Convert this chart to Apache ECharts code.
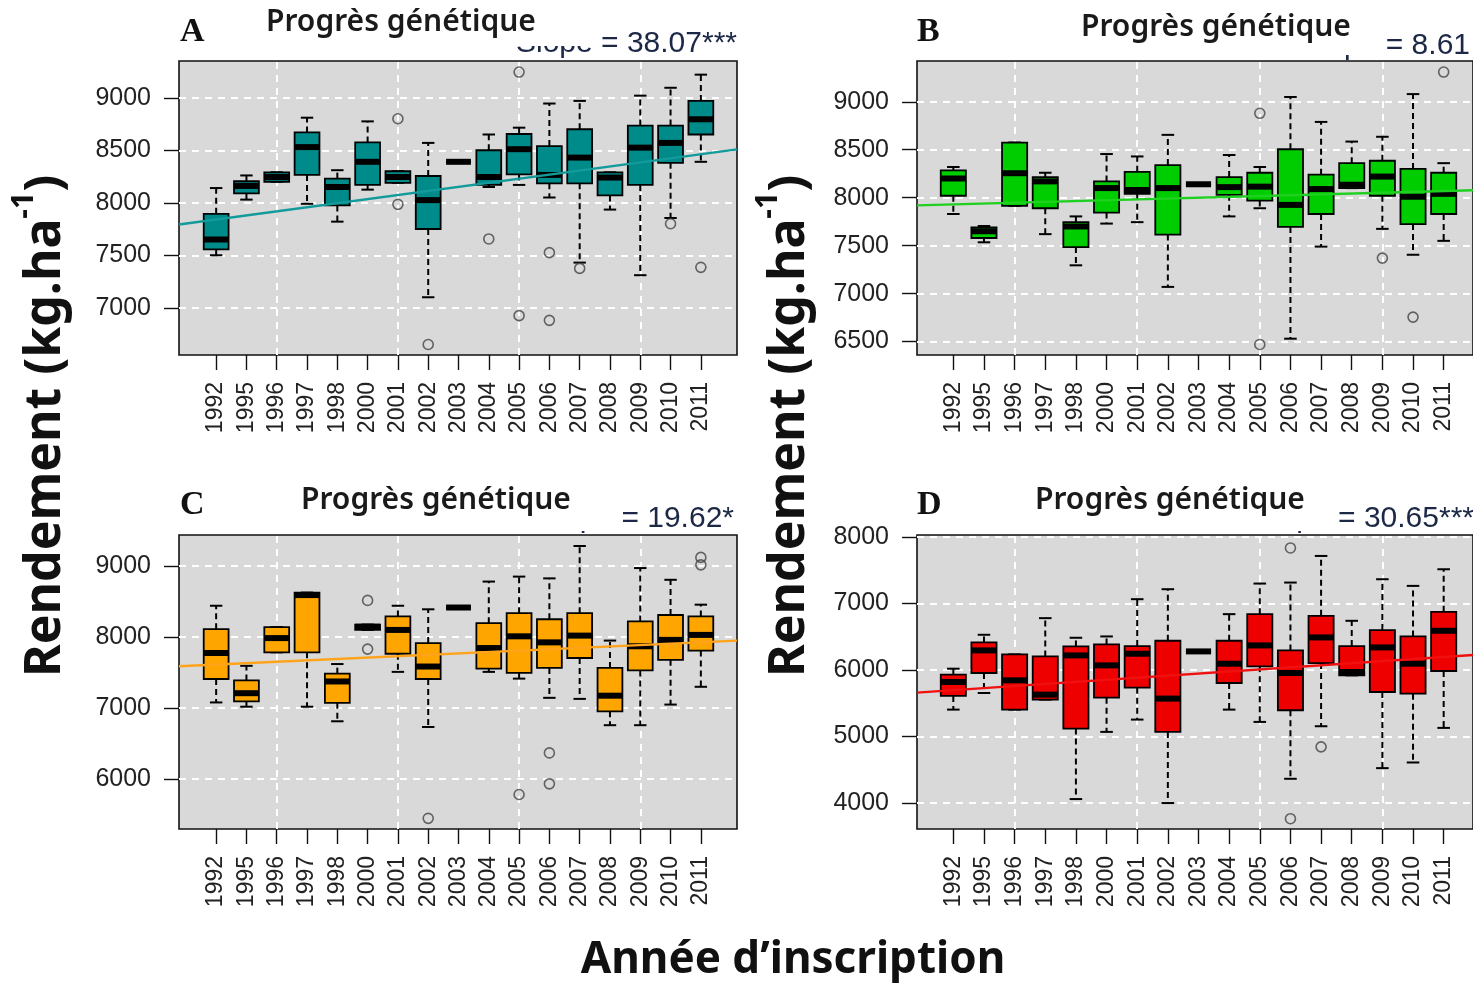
<!DOCTYPE html>
<html>
<head>
<meta charset="utf-8">
<script src="https://cdn.jsdelivr.net/npm/echarts@6/dist/echarts.min.js"></script>
<style>
html,body{margin:0;padding:0;background:#fff}
#chart{width:1473px;height:983px}
</style>
</head>
<body>
<div id="chart"></div>
<script>
'use strict';
var years = ['1992','1995','1996','1997','1998','2000','2001','2002','2003','2004','2005','2006','2007','2008','2009','2010','2011']
var gridYears = ['1996','2001','2005','2009']

// each box: [lower whisker, Q1, median, Q3, upper whisker]
var boxA = [
  [7500,7555,7650,7895,8140],[8030,8090,8160,8205,8260],[8200,8200,8245,8290,8290],
  [7990,8265,8530,8670,8810],[7820,7975,8150,8230,8310],[8125,8170,8390,8575,8775],
  [8190,8190,8245,8300,8300],[7100,7750,8025,8255,8570],[8390,8390,8390,8390,8390],
  [8150,8170,8245,8500,8650],[8170,8270,8510,8655,8715],[8050,8185,8265,8540,8945],
  [7430,8185,8430,8700,8970],[7935,8070,8240,8290,8290],[7310,8170,8525,8735,9020],
  [7855,8380,8570,8735,9095],[8390,8650,8795,8970,9220]
]
var outA = [['2001',8800],['2001',7985],['2002',6650],['2004',7655],['2005',9245],['2005',6925],
  ['2006',7525],['2006',6880],['2007',7375],['2010',7800],['2011',7385]]
var trendA = [7793, 8508]
var ticksA = [7000,7500,8000,8500,9000]

var boxB = [
  [7830,8020,8200,8285,8320],[7535,7580,7650,7690,7705],[7915,7915,8255,8575,8575],
  [7620,7890,8170,8215,8260],[7295,7485,7700,7745,7805],[7730,7845,8100,8170,8455],
  [7745,8040,8080,8270,8430],[7070,7615,8100,8340,8655],[8140,8140,8140,8140,8140],
  [7805,8030,8110,8215,8445],[7890,7970,8115,8260,8320],[6530,7695,7925,8505,9050],
  [7490,7830,8090,8240,8790],[8100,8100,8135,8360,8585],[7675,8020,8220,8385,8635],
  [7405,7725,8010,8300,9080],[7550,7830,8040,8260,8360]
]
var outB = [['2005',8880],['2005',6470],['2009',7370],['2010',6755],['2011',9310]]
var trendB = [7920, 8078]
var ticksB = [6500,7000,7500,8000,8500,9000]

var boxC = [
  [7080,7410,7775,8110,8440],[7020,7095,7210,7390,7595],[7785,7785,7985,8140,8140],
  [7020,7785,8590,8625,8625],[6815,7075,7375,7485,7620],[8100,8100,8145,8175,8175],
  [7510,7765,8100,8290,8440],[6735,7410,7585,7915,8390],[8415,8415,8415,8415,8415],
  [7510,7555,7845,8195,8780],[7415,7495,8010,8335,8850],[7145,7565,7925,8250,8825],
  [7130,7705,8020,8335,9280],[6760,6955,7175,7565,7950],[6760,7530,7870,8220,8970],
  [7050,7680,7960,8310,8805],[7300,7810,8030,8290,8455]
]
var outC = [['2000',8515],['2000',7830],['2002',5450],['2005',5785],['2006',6370],['2006',5935],
  ['2011',9120],['2011',9015]]
var trendC = [7590, 7950]
var ticksC = [6000,7000,8000,9000]

var boxD = [
  [5405,5610,5820,5930,6020],[5655,5955,6295,6415,6530],[5405,5405,5845,6235,6235],
  [5555,5555,5630,6205,6780],[4060,5120,6220,6355,6485],[5070,5585,6070,6385,6505],
  [5255,5735,6245,6360,7065],[4000,5070,5570,6440,7215],[6280,6280,6280,6280,6280],
  [5405,5805,6095,6440,6840],[5220,6055,6370,6840,7300],[4365,5395,5955,6295,7315],
  [5155,6105,6490,6815,7715],[5920,5920,5970,6360,6740],[4525,5670,6340,6600,7365],
  [4610,5645,6095,6505,7265],[5130,5985,6590,6875,7515]
]
var outD = [['2006',7835],['2006',3765],['2007',4845]]
var trendD = [5660, 6225]
var ticksD = [4000,5000,6000,7000,8000]

var panels = [
  {box:boxA, out:outA, trend:trendA, ticks:ticksA, min:6550, max:9350, color:'#008b8b', line:'#139a9a',
   left:179, top:61, width:558, innerLeft:201, innerWidth:515},
  {box:boxB, out:outB, trend:trendB, ticks:ticksB, min:6360, max:9425, color:'#00cd00', line:'#20d020',
   left:917, top:61, width:562, innerLeft:938, innerWidth:521},
  {box:boxC, out:outC, trend:trendC, ticks:ticksC, min:5300, max:9435, color:'#ffa500', line:'#ffa31a',
   left:179, top:535, width:558, innerLeft:201, innerWidth:515},
  {box:boxD, out:outD, trend:trendD, ticks:ticksD, min:3610, max:8030, color:'#ee0000', line:'#f01010',
   left:917, top:535, width:562, innerLeft:938, innerWidth:521}
]
var plotHeight = 294
var tickFont = '"Liberation Sans", Arial, sans-serif'
var titleFont = '"Noto Sans", Lato, sans-serif'

// R style box: dashed whiskers, half-width staples, thick median
function renderBox(params, api){
  var i = api.value(0)
  var lo = api.coord([i, api.value(1)]), q1 = api.coord([i, api.value(2)])
  var md = api.coord([i, api.value(3)]), q3 = api.coord([i, api.value(4)])
  var hi = api.coord([i, api.value(5)])
  var w = api.size([1, 0])[0] * 0.82
  var x = md[0]
  var whisk = {stroke:'#000', lineWidth:2, lineDash:[6,4]}
  var solid = {stroke:'#000', lineWidth:2}
  return {type:'group', children:[
    {type:'line', shape:{x1:x, y1:q3[1], x2:x, y2:hi[1]}, style:whisk},
    {type:'line', shape:{x1:x, y1:q1[1], x2:x, y2:lo[1]}, style:whisk},
    {type:'line', shape:{x1:x - w/4, y1:hi[1], x2:x + w/4, y2:hi[1]}, style:solid},
    {type:'line', shape:{x1:x - w/4, y1:lo[1], x2:x + w/4, y2:lo[1]}, style:solid},
    {type:'rect', shape:{x:x - w/2, y:q3[1], width:w, height:q1[1] - q3[1]},
      style:{fill:api.visual('color'), stroke:'#000', lineWidth:1.8}},
    {type:'line', shape:{x1:x - w/2, y1:md[1], x2:x + w/2, y2:md[1]}, style:{stroke:'#000', lineWidth:6}}
  ]}
}

var grid = [], xAxis = [], yAxis = [], series = []
panels.forEach(function(p, k){
  var outer = k*2, inner = k*2 + 1
  grid.push({left:p.left, top:p.top, width:p.width, height:plotHeight, show:true,
    backgroundColor:'#d9d9d9', borderColor:'#111', borderWidth:1.6})
  grid.push({left:p.innerLeft, top:p.top, width:p.innerWidth, height:plotHeight})
  xAxis.push({type:'value', gridIndex:outer, min:0, max:1, show:false})
  xAxis.push({type:'category', gridIndex:inner, data:years, boundaryGap:true,
    axisLine:{show:false},
    axisTick:{show:true, interval:0, alignWithLabel:true, length:15, lineStyle:{color:'#111', width:1.4}},
    axisLabel:{interval:0, rotate:90, margin:27, fontSize:23, color:'#222', fontFamily:tickFont},
    splitLine:{show:false}})
  yAxis.push({type:'value', gridIndex:outer, min:p.min, max:p.max,
    axisLine:{show:false},
    axisTick:{show:true, length:15, customValues:p.ticks, lineStyle:{color:'#111', width:1.4}},
    axisLabel:{customValues:p.ticks, margin:28, fontSize:25, color:'#222', fontFamily:tickFont,
      formatter:function(v){ return String(v) }},
    splitLine:{show:true, lineStyle:{color:'#fff', width:2, type:[7,6]}}})
  yAxis.push({type:'value', gridIndex:inner, min:p.min, max:p.max, show:false, splitLine:{show:false}})

  series.push({type:'custom', xAxisIndex:inner, yAxisIndex:inner, z:3,
    itemStyle:{color:p.color}, renderItem:renderBox, encode:{x:0, y:[1,2,3,4,5]},
    data:p.box.map(function(b, i){ return [i].concat(b) })})
  series.push({type:'line', xAxisIndex:outer, yAxisIndex:outer, z:4, symbol:'none', silent:true,
    lineStyle:{color:p.line, width:2.4},
    data:[[0, p.trend[0]], [1, p.trend[1]]]})
  series.push({type:'scatter', xAxisIndex:inner, yAxisIndex:inner, z:5, symbol:'circle', symbolSize:10,
    itemStyle:{color:'rgba(0,0,0,0)', borderColor:'#444', borderWidth:1.6},
    data:p.out,
    markLine:{silent:true, z:1, symbol:'none', label:{show:false},
      lineStyle:{color:'#fff', width:2, type:[7,6]},
      data:gridYears.map(function(y){ return {xAxis:y} })}})
})

// panel heads: letter, partly hidden slope text, white box, title
var heads = [
  {letter:'A', lx:180, ly:32, slope:'Slope = 38.07***', sx:737, sy:44, cover:[255, 0, 337, 46], tx:266, ty:22},
  {letter:'B', lx:917, ly:32, slope:'Slope = 8.61', sx:1470, sy:46, cover:[1070, 0, 308, 55], tx:1081, ty:27},
  {letter:'C', lx:180, ly:505, slope:'Slope = 19.62*', sx:734, sy:519, cover:[290, 470, 323, 61], tx:301, ty:500},
  {letter:'D', lx:917, ly:505, slope:'Slope = 30.65***', sx:1474, sy:519, cover:[1025, 470, 309, 61], tx:1035, ty:500}
]
var graphic = []
heads.forEach(function(h){
  graphic.push({type:'text', x:h.lx, y:h.ly, z:10, style:{text:h.letter, fill:'#111',
    font:'bold 34px "Liberation Serif", serif', textVerticalAlign:'middle'}})
  graphic.push({type:'text', x:h.sx, y:h.sy, z:10, style:{text:h.slope, fill:'#1c2846',
    font:'30px ' + tickFont, textAlign:'right', textVerticalAlign:'middle'}})
  graphic.push({type:'rect', x:h.cover[0], y:h.cover[1], z:11,
    shape:{width:h.cover[2], height:h.cover[3]}, style:{fill:'#fff'}})
  graphic.push({type:'text', x:h.tx, y:h.ty, z:12, style:{text:'Progrès génétique', fill:'#1a1a1a',
    font:'600 30px ' + titleFont, textVerticalAlign:'middle'}})
})
var ylab = {text:'{a|Rendement (kg.ha}{s|-1}{a|)}', fill:'#111', textAlign:'center', textVerticalAlign:'middle',
  rich:{a:{fontSize:50, fontWeight:'bold', fontFamily:titleFont, lineHeight:62, verticalAlign:'bottom', fill:'#111'},
        s:{fontSize:30, fontWeight:'bold', fontFamily:titleFont, lineHeight:32, verticalAlign:'top', fill:'#111'}}}
graphic.push({type:'text', x:40, y:426, rotation:Math.PI/2, z:10, style:ylab})
graphic.push({type:'text', x:784, y:426, rotation:Math.PI/2, z:10, style:ylab})
graphic.push({type:'text', x:793, y:960, z:10, style:{text:'Année d’inscription', fill:'#111',
  font:'bold 44px ' + titleFont, textAlign:'center', textVerticalAlign:'middle'}})

var mychart = echarts.init(document.getElementById('chart'), null, {renderer:'canvas'})
mychart.setOption({
  animation:false,
  backgroundColor:'#fff',
  grid:grid, xAxis:xAxis, yAxis:yAxis, series:series, graphic:graphic
})
</script>
</body>
</html>
